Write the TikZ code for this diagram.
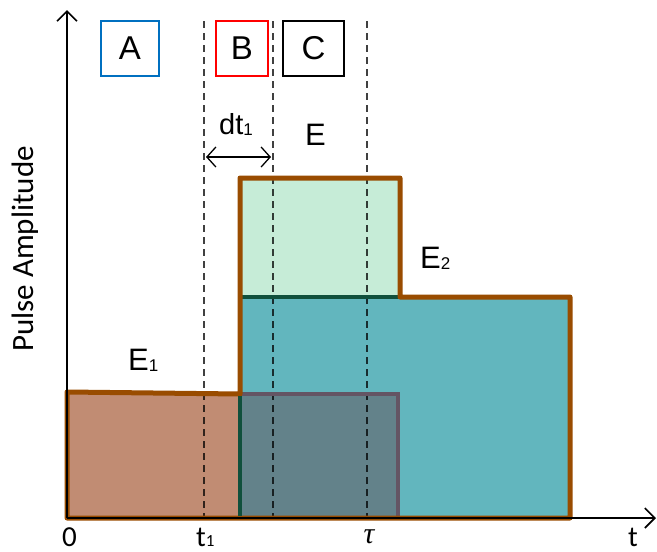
\documentclass[tikz,border=0pt]{standalone}
\usepackage{fontspec}
\setmainfont{Liberation Sans}
\newfontfamily\calib{Carlito}
\newfontfamily\grk{Liberation Serif}
\usetikzlibrary{arrows.meta}
\definecolor{brownb}{RGB}{153,76,0}
\definecolor{lightgreen}{RGB}{198,236,215}
\definecolor{tealf}{RGB}{98,182,190}
\definecolor{e1fill}{RGB}{193,140,115}
\definecolor{ovfill}{RGB}{99,130,138}
\definecolor{ovedge}{RGB}{100,85,100}
\definecolor{dgreen}{RGB}{16,80,60}
\definecolor{boxblue}{RGB}{0,112,192}
\newcommand{\lowsub}[1]{\raisebox{-1pt}{\fontsize{17}{17}\selectfont #1}}
\tikzset{
  lbl/.style={font=\fontsize{31}{31}\selectfont, inner sep=0pt, anchor=base west},
  tick/.style={font=\calib\fontsize{29}{29}\selectfont, inner sep=0pt, anchor=base},
  tagbox/.style={draw, line width=1.6pt, minimum width=58pt, minimum height=55pt, inner sep=0pt, font=\fontsize{33}{33}\selectfont},
  brownedge/.style={draw=brownb, line width=5pt, line join=round, line cap=round},
  guide/.style={black, line width=1.3pt, dash pattern=on 7pt off 5pt, opacity=0.75},
  axis/.style={line width=1.6pt, -{Straight Barb[length=10pt,width=20pt,line width=1.6pt]}}
}
\begin{document}
\begin{tikzpicture}[x=1pt,y=-1pt]
\useasboundingbox (0,0) rectangle (657,552);
% fills
\fill[tealf] (240,297) rectangle (570,518);
\fill[lightgreen] (240,178) rectangle (400,297);
\fill[e1fill] (67,392) -- (240,394) -- (240,518) -- (67,518) -- cycle;
\fill[ovfill] (240,394) rectangle (398,518);
% guides
\coordinate (g1t) at (204,21); \coordinate (g1b) at (204,518);
\coordinate (g2t) at (273,21); \coordinate (g2b) at (273,518);
\coordinate (g3t) at (367,21); \coordinate (g3b) at (367,518);
\draw[guide] (g1t) -- (g1b);
\draw[guide] (g2t) -- (g2b);
\draw[guide] (g3t) -- (g3b);
% edges
\draw[draw=ovedge, line width=4pt] (240,394) -- (398,394) -- (398,518);
\draw[draw=dgreen, line width=4pt] (240,297) -- (400,297);
\draw[brownedge] (240,297) -- (240,178) -- (400,178) -- (400,297) -- (570,297) -- (570,518) -- (67,518) -- (67,392) -- (240,394) -- (240,297);
\draw[draw=dgreen, line width=4pt] (240,396) -- (240,516);
% axes
\coordinate (o) at (67,518);
\coordinate (ytop) at (67,10);
\coordinate (xend) at (656,518);
\draw[axis] (o) -- (ytop);
\draw[axis] (o) -- (xend);
% boxes
\node[tagbox, draw=boxblue] (A) at (130,48.5) {A};
\node[tagbox, draw=red, minimum width=52pt] (B) at (242,48.5) {B};
\node[tagbox, minimum width=61pt] (C) at (313.5,48.5) {C};
% dt1
\coordinate (d1) at (206,157);
\coordinate (d2) at (271,157);
\draw[line width=1.3pt, {Straight Barb[length=9pt,width=20pt,line width=1.3pt]}-{Straight Barb[length=9pt,width=20pt,line width=1.3pt]}] (d1) -- (d2);
\node[lbl, font=\fontsize{29}{29}\selectfont] (dt) at (219,134) {dt\lowsub{1}};
\node[lbl] (E) at (305,145) {E};
\node[lbl] (E2) at (420,268) {E\lowsub{2}};
\node[lbl] (E1) at (128,370) {E\lowsub{1}};
% tick labels
\node[tick] (zero) at (69.5,546) {0};
\node[tick, anchor=base west] (t1) at (196,546) {t{\fontsize{17}{17}\selectfont 1}};
\node[tick, font=\grk\itshape\fontsize{30}{30}\selectfont] (tau) at (369,543) {τ};
\node[tick] (t) at (633,546) {t};
\node[tick, font=\calib\fontsize{31}{31}\selectfont, rotate=90] (pa) at (33,249) {Pulse Amplitude};
\end{tikzpicture}
\end{document}
